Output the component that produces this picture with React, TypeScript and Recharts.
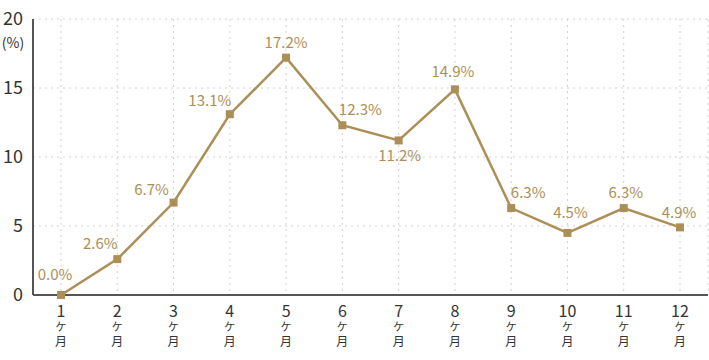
import { LineChart, Line, XAxis, YAxis, CartesianGrid, LabelList } from 'recharts';

const MONTHS = ['1', '2', '3', '4', '5', '6', '7', '8', '9', '10', '11', '12'];
const RATES = [0, 2.6, 6.7, 13.1, 17.2, 12.3, 11.2, 14.9, 6.3, 4.5, 6.3, 4.9];
const Y_TICKS = [0, 5, 10, 15, 20];

const GOLD = '#ab8f57';
const INK = '#333';
const FONT = '"Noto Sans CJK JP", "Noto Sans", sans-serif';

// label offsets from each point (dx, dy)
const LABEL_OFFSETS: [number, number][] = [
  [-6, -20], [-17, -15], [-22, -13], [-20, -13], [0, -15], [18, -15],
  [1, 16], [-2, -17], [17, -15], [3, -20], [2, -15], [-1, -14],
];

const data = MONTHS.map((m, i) => ({ month: m, rate: RATES[i] }));

// month number with ケ月 stacked underneath, as one text element
const MonthTick = (props: any) => {
  const { x, y, payload } = props;
  return (
    <text x={x} y={y + 14} textAnchor="middle" fontFamily={FONT} fill={INK}>
      <tspan x={x} fontSize={16}>{payload.value}</tspan>
      <tspan x={x} dy={14} fontSize={11}>ケ</tspan>
      <tspan x={x} dy={15} fontSize={12}>月</tspan>
    </text>
  );
};

const RateTick = (props: any) => {
  const { x, y, payload } = props;
  return (
    <g fontFamily={FONT} fill={INK}>
      <text x={x - 2} y={y + 6} textAnchor="end" fontSize={18}>{payload.value}</text>
      {payload.value === 20 && (
        <text x={13} y={y + 29} textAnchor="middle" fontSize={14}>(%)</text>
      )}
    </g>
  );
};

const RateLabel = (props: any) => {
  const { x, y, index, value } = props;
  const [dx, dy] = LABEL_OFFSETS[index];
  return (
    <text x={x + dx} y={y + dy + 5} textAnchor="middle" fontSize={15} fontFamily={FONT} fill={GOLD}>
      {Number(value).toFixed(1)}%
    </text>
  );
};

const Square = (props: any) => {
  const { cx, cy } = props;
  return <rect x={cx - 4} y={cy - 4} width={8} height={8} fill={GOLD} />;
};

export default function App() {
  return (
    <div style={{ position: 'absolute', left: 0, top: 0, background: '#fff' }}>
      <LineChart width={709} height={360} data={data} margin={{ top: 19, right: 1, bottom: 0, left: 0 }}>
        <CartesianGrid stroke="#d0d0d0" strokeDasharray="2 4" />
        <XAxis
          dataKey="month"
          height={65}
          padding={{ left: 28, right: 28 }}
          tickLine={false}
          axisLine={{ stroke: '#555', strokeWidth: 2 }}
          tick={<MonthTick />}
          interval={0}
        />
        <YAxis
          width={33}
          domain={[0, 20]}
          ticks={Y_TICKS}
          tickLine={false}
          axisLine={{ stroke: '#555', strokeWidth: 2 }}
          tick={<RateTick />}
        />
        <Line
          dataKey="rate"
          stroke={GOLD}
          strokeWidth={2.5}
          dot={<Square />}
          activeDot={false}
          isAnimationActive={false}
        >
          <LabelList dataKey="rate" content={<RateLabel />} />
        </Line>
      </LineChart>
    </div>
  );
}
